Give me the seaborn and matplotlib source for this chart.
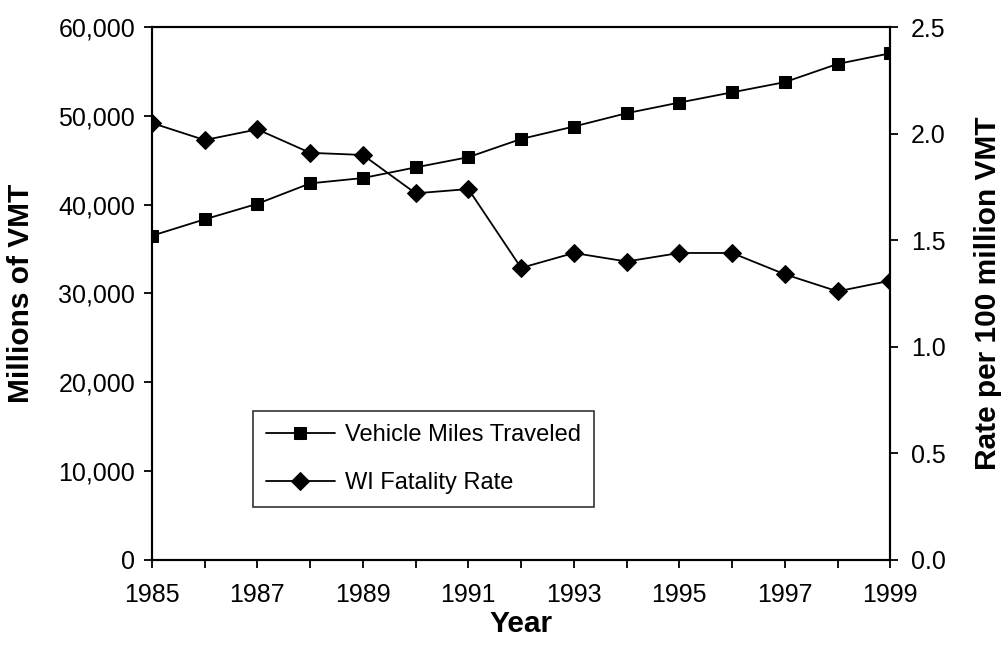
import matplotlib
matplotlib.use('Agg')
import matplotlib.pyplot as plt
import seaborn as sns
import pandas as pd
from matplotlib.ticker import FuncFormatter

years = list(range(1985, 2000))
vmt = [36500, 38350, 40100, 42400, 43000, 44200, 45350, 47400,
       48800, 50300, 51500, 52650, 53800, 55850, 57050]
fatality_rate = [2.05, 1.97, 2.02, 1.91, 1.90, 1.72, 1.74, 1.37,
                 1.44, 1.40, 1.44, 1.44, 1.34, 1.26, 1.31]
x_labels = [str(y) if y % 2 == 1 else '' for y in years]

df = pd.DataFrame({'Year': years, 'VMT': vmt, 'Rate': fatality_rate})

sns.set_style('white')
plt.rcParams['font.family'] = ['Liberation Sans', 'DejaVu Sans']
plt.rcParams['text.color'] = 'black'
tick_fs = 18
label_fs = 21.5

fig = plt.figure(figsize=(10.06, 6.45), dpi=100)
ax = fig.add_axes([0.151, 0.132, 0.734, 0.826])
ax2 = ax.twinx()

sns.lineplot(data=df, x='Year', y='VMT', ax=ax, color='black', marker='s',
             markersize=9, linewidth=1.3, markeredgecolor='black',
             label='Vehicle Miles Traveled', legend=False)
sns.lineplot(data=df, x='Year', y='Rate', ax=ax2, color='black', marker='D',
             markersize=9, linewidth=1.3, markeredgecolor='black',
             label='WI Fatality Rate', legend=False)

ax.set_xlim(1985, 1999)
ax.set_ylim(0, 60000)
ax2.set_ylim(0, 2.5)
ax.set_xticks(years)
ax.set_xticklabels(x_labels)
ax.set_yticks(range(0, 60001, 10000))
ax.yaxis.set_major_formatter(FuncFormatter(lambda v, p: f'{int(v):,}'))
ax2.set_yticks([0, 0.5, 1.0, 1.5, 2.0, 2.5])
ax2.yaxis.set_major_formatter(FuncFormatter(lambda v, p: f'{v:.1f}'))

for a in (ax, ax2):
    for s in a.spines.values():
        s.set_color('black')
        s.set_linewidth(1.5)
    a.tick_params(labelsize=tick_fs, colors='black', labelcolor='black',
                  length=6, width=1.3, direction='out')
ax.tick_params(axis='x', bottom=True, pad=11)
ax.tick_params(axis='y', left=True, pad=6)
ax2.tick_params(axis='y', right=True, pad=9)

ax.set_xlabel('Year', fontsize=label_fs, fontweight='bold', color='black', labelpad=2)
ax.set_ylabel('Millions of VMT', fontsize=label_fs, fontweight='bold', color='black', labelpad=17)
ax2.set_ylabel('Rate per 100 million VMT', fontsize=label_fs, fontweight='bold',
               color='black', labelpad=20)

h1, l1 = ax.get_legend_handles_labels()
h2, l2 = ax2.get_legend_handles_labels()
leg = ax.legend(h1 + h2, l1 + l2, loc='lower left', bbox_to_anchor=(0.137, 0.099),
                borderaxespad=0, fontsize=17, frameon=True, fancybox=False,
                edgecolor='black', handlelength=2.9, handletextpad=0.45,
                borderpad=0.55, labelspacing=1.1)
leg.get_frame().set_linewidth(1.2)
for t in leg.get_texts():
    t.set_color('black')

fig.savefig('out.png', dpi=100)
